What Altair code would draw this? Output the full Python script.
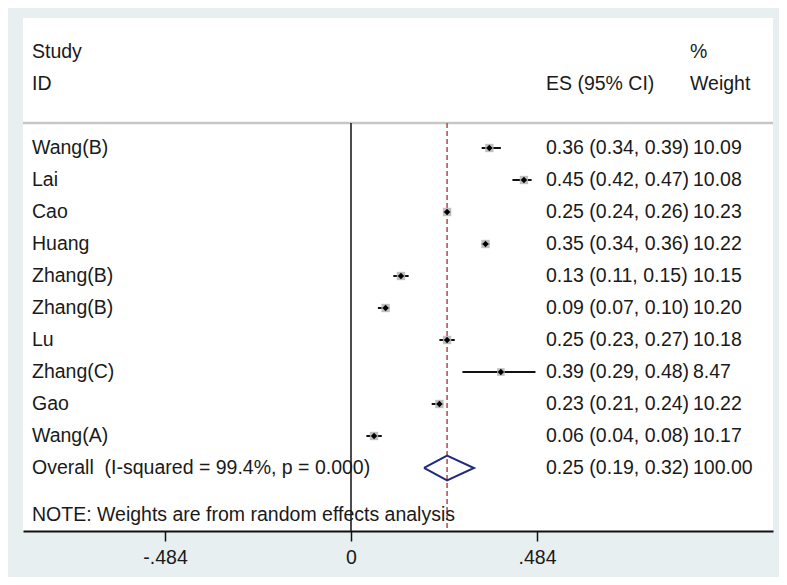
import altair as alt
import pandas as pd

# ---- data ----
studies = ["Wang(B)", "Lai", "Cao", "Huang", "Zhang(B)", "Zhang(B)", "Lu",
           "Zhang(C)", "Gao", "Wang(A)"]
es = [0.36, 0.45, 0.25, 0.35, 0.13, 0.09, 0.25, 0.39, 0.23, 0.06]
lo = [0.34, 0.42, 0.24, 0.34, 0.11, 0.07, 0.23, 0.29, 0.21, 0.04]
hi = [0.39, 0.47, 0.26, 0.36, 0.15, 0.10, 0.27, 0.48, 0.24, 0.08]
weights = [10.09, 10.08, 10.23, 10.22, 10.15, 10.20, 10.18, 8.47, 10.22, 10.17]

overall_label = "Overall\u00a0\u00a0(I-squared = 99.4%, p = 0.000)"
overall_es, overall_lo, overall_hi, overall_w = 0.25, 0.19, 0.32, 100.00
note_text = "NOTE: Weights are from random effects analysis"

header_left = ["Study", "ID"]
header_es = ["", "ES (95% CI)"]
header_w = ["%", "Weight"]

tick_values = [-0.484, 0, 0.484]
tick_labels = ["-.484", "0", ".484"]

# ---- layout / style ----
FONT = "Liberation Sans"
FS = 19.5
TXT = "#1a1a1a"
W, H = 750, 513
X_DOMAIN = [-0.8535, 1.0981]
Y_DOMAIN = [-3.0625, 12.969]
TOP_ROW = 0.22
NOTE_ROW = 12.47

n = len(studies)
rows = list(range(1, n + 1))
overall_row = n + 1

df = pd.DataFrame({
    "study": studies, "es": es, "lo": lo, "hi": hi, "w": weights, "row": rows,
})
df["es_txt"] = [f"{a:.2f} ({b:.2f}, {c:.2f})" for a, b, c in zip(es, lo, hi)]
df["w_txt"] = [f"{v:.2f}" for v in weights]

lab_df = pd.DataFrame({
    "label": studies + [overall_label],
    "es_txt": list(df["es_txt"]) + [f"{overall_es:.2f} ({overall_lo:.2f}, {overall_hi:.2f})"],
    "w_txt": list(df["w_txt"]) + [f"{overall_w:.2f}"],
    "row": rows + [overall_row],
})
hdr_df = pd.DataFrame({"left": header_left, "es": header_es, "w": header_w,
                       "row": [-2, -1]})
note_df = pd.DataFrame({"label": [note_text], "row": [NOTE_ROW]})
vline_df = pd.DataFrame({"es": [0.0, overall_es], "row": [TOP_ROW, TOP_ROW],
                         "kind": ["zero", "overall"]})

half = 0.39
dia_df = pd.DataFrame({
    "es": [overall_lo, overall_es, overall_hi, overall_es, overall_lo],
    "row": [overall_row, overall_row - half, overall_row, overall_row + half, overall_row],
    "o": [0, 1, 2, 3, 4],
})

xs = alt.Scale(domain=X_DOMAIN, nice=False, zero=False)
ys = alt.Scale(domain=Y_DOMAIN, reverse=True, nice=False, zero=False)

label_expr = " : ".join(
    [f"abs(datum.value - ({v})) < 0.001 ? '{t}'" for v, t in zip(tick_values, tick_labels)]
) + " : ''"

x_axis = alt.Axis(values=tick_values, labelExpr=label_expr, grid=False, title=None,
                  domainColor="#111111", domainWidth=2, tickColor="#111111",
                  tickWidth=1.5, tickSize=10, labelPadding=7, labelFont=FONT,
                  labelFontSize=FS, labelColor=TXT)

X = alt.X("es:Q", scale=xs, axis=x_axis)
Y = alt.Y("row:Q", scale=ys, axis=None)

# top separator line
topline = alt.Chart(pd.DataFrame({"row": [TOP_ROW]})).mark_rule(
    color="#c6c6c6", strokeWidth=2.5).encode(
    y=Y, x=alt.value(0), x2=alt.value(W))

zero_line = alt.Chart(vline_df[vline_df.kind == "zero"]).mark_rule(
    color="#111111", strokeWidth=1.5).encode(x=X, y=Y, y2=alt.value(H))

ov_line = alt.Chart(vline_df[vline_df.kind == "overall"]).mark_rule(
    color="#b5474a", strokeWidth=1.5, strokeDash=[5, 3]).encode(
    x=X, y=Y, y2=alt.value(H))

ci = alt.Chart(df).mark_rule(color="#111111", strokeWidth=2).encode(
    x=alt.X("lo:Q", scale=xs, axis=x_axis), x2="hi:Q", y=Y)

boxes = alt.Chart(df).mark_square(color="#b8b8b8", opacity=0.9).encode(
    x=X, y=Y,
    size=alt.Size("w:Q", scale=alt.Scale(domain=[0, 10.23], range=[0, 70]), legend=None))

dots = alt.Chart(df).mark_point(shape="diamond", filled=True, color="#000000",
                                size=40, opacity=1).encode(x=X, y=Y)

diamond = alt.Chart(dia_df).mark_line(color="#1f2a7a", strokeWidth=2).encode(
    x=X, y=Y, order="o:Q")

txt_kw = dict(font=FONT, fontSize=FS, color=TXT, align="left", baseline="middle")

name_txt = alt.Chart(lab_df).mark_text(**txt_kw).encode(
    x=alt.value(9), y=Y, text="label:N")
es_txt = alt.Chart(lab_df).mark_text(**txt_kw).encode(
    x=alt.value(523), y=Y, text="es_txt:N")
w_txt = alt.Chart(lab_df).mark_text(**txt_kw).encode(
    x=alt.value(670), y=Y, text="w_txt:N")

h1 = alt.Chart(hdr_df).mark_text(**txt_kw).encode(x=alt.value(9), y=Y, text="left:N")
h2 = alt.Chart(hdr_df).mark_text(**txt_kw).encode(x=alt.value(523), y=Y, text="es:N")
h3 = alt.Chart(hdr_df).mark_text(**txt_kw).encode(x=alt.value(667), y=Y, text="w:N")

note = alt.Chart(note_df).mark_text(**txt_kw).encode(
    x=alt.value(9), y=Y, text="label:N")

chart = alt.layer(
    topline, zero_line, ov_line, ci, boxes, dots, diamond,
    name_txt, es_txt, w_txt, h1, h2, h3, note
).properties(
    width=W, height=H,
    background="#e8eff1",
    padding={"left": 15, "top": 10, "right": 6, "bottom": 46},
    autosize=alt.AutoSizeParams(type="none"),
).configure_view(fill="white", stroke=None)

chart.save("out.html", embed_options={"renderer": "svg", "actions": False})
